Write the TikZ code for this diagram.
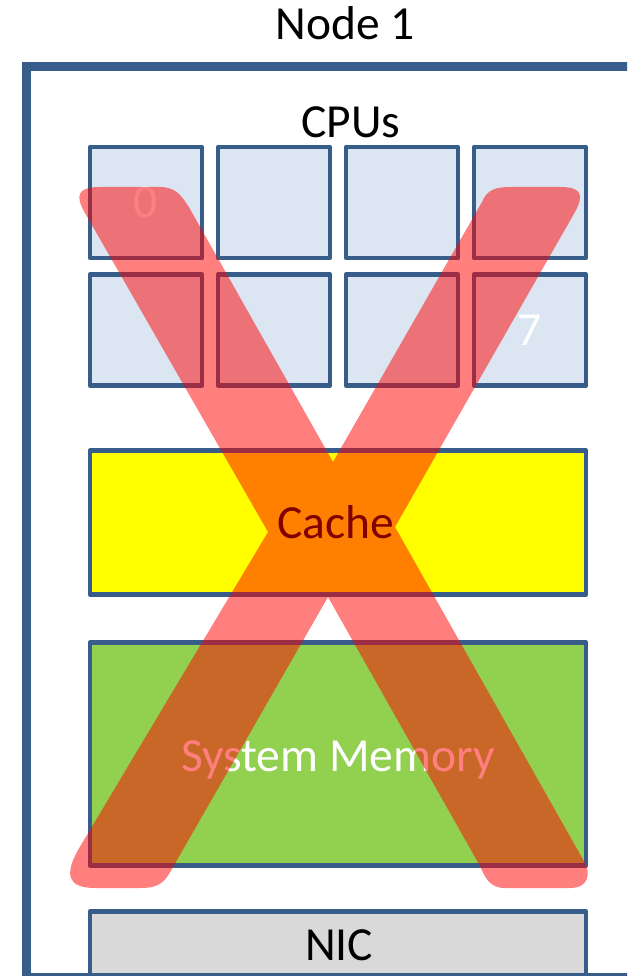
\documentclass[tikz,border=0pt]{standalone}
\usepackage{fontspec}
\setmainfont{Carlito}
\definecolor{frameblue}{RGB}{56,93,138}
\definecolor{cpufill}{RGB}{220,230,242}
\definecolor{cachefill}{RGB}{255,255,0}
\definecolor{memfill}{RGB}{146,208,80}
\definecolor{nicfill}{RGB}{217,217,217}
\definecolor{xred}{RGB}{255,0,0}
\begin{document}
\begin{tikzpicture}[x=1pt,y=-1pt,
  box/.style={draw=frameblue, line width=4.8pt, line join=round, inner sep=0pt, outer sep=0pt},
  cpubox/.style={box, fill=cpufill, minimum width=112pt, minimum height=111pt},
  widebox/.style={box, minimum width=496pt},
  lbl/.style={font=\fontsize{47.5pt}{52pt}\selectfont, anchor=base, inner sep=0pt, outer sep=0pt},
  crossmark/.style={fill=xred, fill opacity=0.5}]
\useasboundingbox (0,0) rectangle (627,976);
\clip (0,0) rectangle (627,976);
% CPU grid
\node[cpubox] (c0) at (146,202.5) {};
\node[cpubox] (c1) at (274,202.5) {};
\node[cpubox] (c2) at (402,202.5) {};
\node[cpubox] (c3) at (530,202.5) {};
\node[cpubox] (c4) at (146,330) {};
\node[cpubox] (c5) at (274,330) {};
\node[cpubox] (c6) at (402,330) {};
\node[cpubox] (c7) at (530,330) {};
% cache, memory, NIC
\node[widebox, fill=cachefill, minimum height=144pt] (cache) at (338,522.5) {};
\node[widebox, fill=memfill, minimum height=223pt] (mem) at (338,754) {};
\node[widebox, fill=nicfill, minimum height=90pt] (nic) at (338,956.5) {};
% outer frame
\node[draw=frameblue, line width=9pt, inner sep=0pt, minimum width=640pt, minimum height=911pt] (frame) at (346,522) {};
% labels
\node[lbl] (title) at (345,40) {Node 1};
\node[lbl] (cpus) at (351,137.5) {CPUs};
\node[lbl, text=white] (l0) at (146,218) {0};
\node[lbl, text=white] (l7) at (530,345) {7};
\node[lbl] (lcache) at (336,538) {Cache};
\node[lbl, text=white] (lmem) at (338,771.5) {System Memory};
\node[lbl] (lnic) at (339,960) {NIC};
% red cross
\path[crossmark]
  (85,213) .. controls (75,196) and (77,187) .. (100,187)
  -- (160,187) .. controls (176,187) and (182,196) .. (190,209)
  -- (333,462)
  -- (482,202) .. controls (487,190) and (495,187) .. (510,187)
  -- (560,187) .. controls (582,187) and (584,195) .. (575,212)
  -- (395,527)
  -- (585,863) .. controls (590,872) and (590,888) .. (570,888)
  -- (505,888) .. controls (490,888) and (485,878) .. (480,866)
  -- (328,597)
  -- (173,867) .. controls (165,882) and (160,888) .. (140,888)
  -- (95,888) .. controls (65,888) and (66,872) .. (78,850)
  -- (268,532)
  -- cycle;
\end{tikzpicture}
\end{document}
